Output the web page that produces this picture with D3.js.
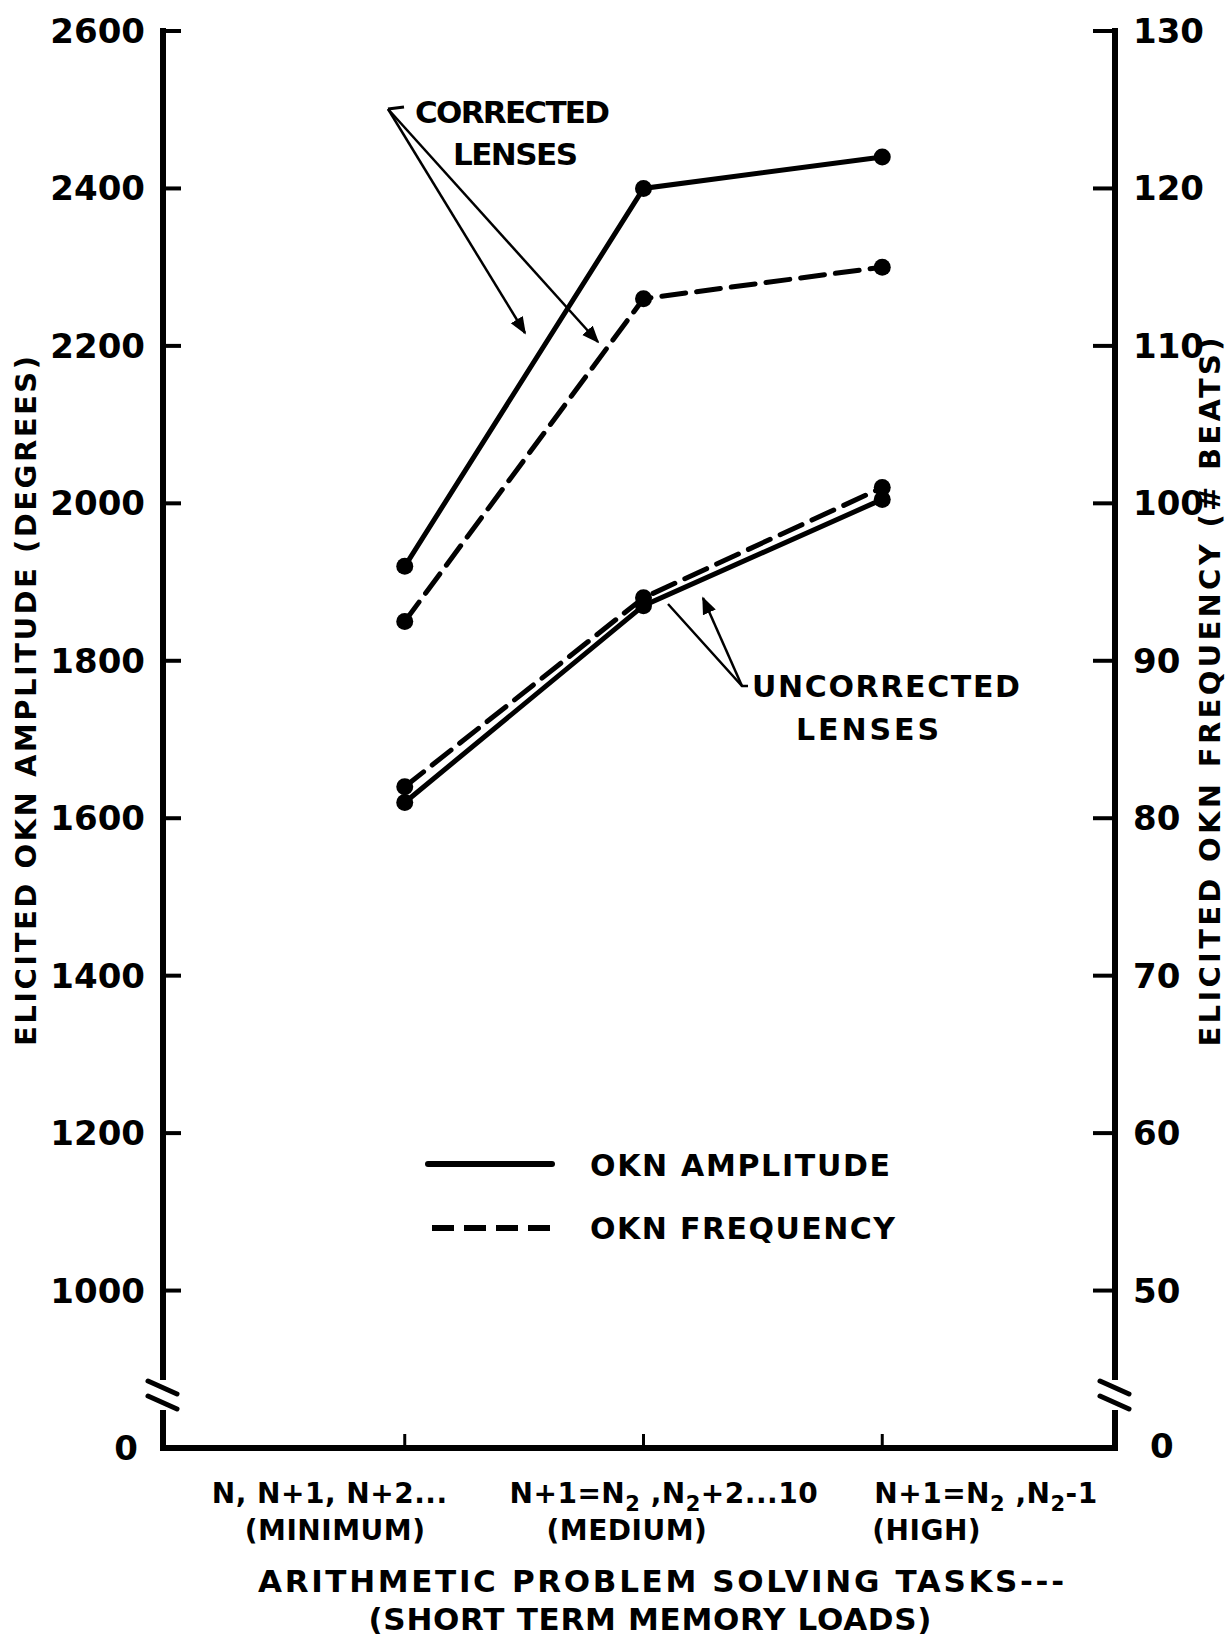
<!doctype html>
<html lang="en">
  <head>
    <meta charset="utf-8">
    <title>OKN amplitude and frequency vs memory load</title>
    <script src="https://d3js.org/d3.v7.min.js"></script>
    <style>
      body { margin: 0; background: #fff; }
      text { font-family: 'DejaVu Sans', sans-serif; font-weight: bold; fill: #000; }
    </style>
  </head>
  <body>
    <div id="root"></div>
  <script>

    // data:
    const categories = ["minimum", "medium", "high"];
    const catLine1 = ["N, N+1, N+2...", "N+1=N{2} ,N{2}+2...10", "N+1=N{2} ,N{2}-1"];
    const catLine2 = ["(MINIMUM)", "(MEDIUM)", "(HIGH)"];
    const ampCorrected = [1920, 2400, 2440];
    const freqCorrected = [92.5, 113, 115];
    const ampUncorrected = [1620, 1870, 2005];
    const freqUncorrected = [82, 94, 101];
    const leftTicks = [1000, 1200, 1400, 1600, 1800, 2000, 2200, 2400, 2600];
    const rightTicks = [50, 60, 70, 80, 90, 100, 110, 120, 130];

    // layout:
    const width = 1229, height = 1640;
    const xLeft = 163, xRight = 1115, yTop = 31, yBase = 1448;
    const catDx1 = [-193, -134, -8];   // left edge of first label line, from the tick
    const catDx2 = [-160, -97, -10];

    const svg = d3.select("#root").append("svg")
      .attr("width", width).attr("height", height);

    const x = d3.scalePoint().domain(categories).range([xLeft + 3, xRight + 6]).padding(1);
    // axis is broken: the bottom "0" sits where 800 / 40 would be
    const yL = d3.scaleLinear().domain([800, 2600]).range([yBase, yTop]);
    const yR = d3.scaleLinear().domain([40, 130]).range([yBase, yTop]);

    //axes lines with breaks:
    const axisStroke = 6;
    function vAxis(xp) {
      svg.append("path")
        .attr("d", `M${xp},${yTop - 3} L${xp},1380 M${xp},1410 L${xp},${yBase}`)
        .attr("stroke", "#000").attr("stroke-width", axisStroke).attr("fill", "none");
      [0, 15].forEach(function(o) {
        svg.append("line")
          .attr("x1", xp - 15).attr("y1", 1381 + o)
          .attr("x2", xp + 14).attr("y2", 1394 + o)
          .attr("stroke", "#000").attr("stroke-width", 5).attr("stroke-linecap", "round");
      });
    }
    vAxis(xLeft);
    vAxis(xRight);
    svg.append("line")
      .attr("x1", xLeft - 3).attr("x2", xRight + 3)
      .attr("y1", yBase).attr("y2", yBase)
      .attr("stroke", "#000").attr("stroke-width", axisStroke);

    //ticks:
    svg.selectAll(".ltick").data(leftTicks).enter().append("line")
      .attr("x1", xLeft).attr("x2", xLeft + 18)
      .attr("y1", d => yL(d)).attr("y2", d => yL(d))
      .attr("stroke", "#000").attr("stroke-width", 4);
    svg.selectAll(".rtick").data(rightTicks).enter().append("line")
      .attr("x1", xRight - 22).attr("x2", xRight)
      .attr("y1", d => yR(d)).attr("y2", d => yR(d))
      .attr("stroke", "#000").attr("stroke-width", 4);
    svg.selectAll(".xtick").data(categories).enter().append("line")
      .attr("x1", d => x(d)).attr("x2", d => x(d))
      .attr("y1", yBase).attr("y2", yBase - 14)
      .attr("stroke", "#000").attr("stroke-width", 3);

    //tick labels:
    svg.selectAll(".llab").data(leftTicks).enter().append("text")
      .attr("x", 145).attr("y", d => yL(d) + 12)
      .attr("text-anchor", "end").attr("font-size", 34)
      .text(d => d);
    svg.append("text").attr("x", 138).attr("y", yBase + 12)
      .attr("text-anchor", "end").attr("font-size", 34).text("0");
    svg.selectAll(".rlab").data(rightTicks).enter().append("text")
      .attr("x", 1133).attr("y", d => yR(d) + 12)
      .attr("font-size", 34)
      .text(d => d);
    svg.append("text").attr("x", 1150).attr("y", yBase + 10)
      .attr("font-size", 34).text("0");

    //category labels with subscripts:
    function subText(sel, str) {
      let shift = 0;
      str.split(/(\{\d\})/).forEach(function(part) {
        if (!part) return;
        const m = part.match(/^\{(\d)\}$/);
        if (m) {
          sel.append("tspan").attr("font-size", 21).attr("dy", 8 - shift).text(m[1]);
          shift = 8;
        } else {
          sel.append("tspan").attr("dy", -shift).text(part);
          shift = 0;
        }
      });
    }
    categories.forEach(function(c, i) {
      const t = svg.append("text")
        .attr("x", x(c) + catDx1[i]).attr("y", 1503)
        .attr("font-size", 28).attr("letter-spacing", 0.5);
      subText(t, catLine1[i]);
      svg.append("text")
        .attr("x", x(c) + catDx2[i]).attr("y", 1540)
        .attr("font-size", 28).attr("letter-spacing", 0.5)
        .text(catLine2[i]);
    });

    //axis titles:
    svg.append("text")
      .attr("x", 661).attr("y", 1592).attr("text-anchor", "middle")
      .attr("font-size", 31).attr("textLength", 806)
      .text("ARITHMETIC PROBLEM SOLVING TASKS---");
    svg.append("text")
      .attr("x", 650).attr("y", 1630).attr("text-anchor", "middle")
      .attr("font-size", 31).attr("textLength", 563)
      .text("(SHORT TERM MEMORY LOADS)");
    svg.append("text")
      .attr("transform", "translate(36,701) rotate(-90)")
      .attr("text-anchor", "middle").attr("font-size", 29).attr("textLength", 690)
      .text("ELICITED OKN AMPLITUDE (DEGREES)");
    svg.append("text")
      .attr("transform", "translate(1220,692) rotate(-90)")
      .attr("text-anchor", "middle").attr("font-size", 29).attr("textLength", 709)
      .text("ELICITED OKN FREQUENCY (# BEATS)");

    //series:
    const series = [
      { values: ampCorrected, y: yL, dash: null },
      { values: freqCorrected, y: yR, dash: "24,11" },
      { values: ampUncorrected, y: yL, dash: null },
      { values: freqUncorrected, y: yR, dash: "24,11" }
    ];
    series.forEach(function(s) {
      const line = d3.line()
        .x((d, i) => x(categories[i]))
        .y(d => s.y(d));
      svg.append("path")
        .attr("d", line(s.values))
        .attr("fill", "none").attr("stroke", "#000").attr("stroke-width", 5)
        .attr("stroke-linecap", "round")
        .attr("stroke-dasharray", s.dash);
      svg.selectAll(null).data(s.values).enter().append("circle")
        .attr("cx", (d, i) => x(categories[i]))
        .attr("cy", d => s.y(d))
        .attr("r", 8.5).attr("fill", "#000");
    });

    //legend:
    svg.append("line").attr("x1", 428).attr("x2", 552).attr("y1", 1164).attr("y2", 1164)
      .attr("stroke", "#000").attr("stroke-width", 6).attr("stroke-linecap", "round");
    svg.append("line").attr("x1", 432).attr("x2", 550).attr("y1", 1228).attr("y2", 1228)
      .attr("stroke", "#000").attr("stroke-width", 6).attr("stroke-dasharray", "22,10");
    svg.append("text").attr("x", 590).attr("y", 1176).attr("font-size", 30)
      .attr("textLength", 300).text("OKN AMPLITUDE");
    svg.append("text").attr("x", 590).attr("y", 1239).attr("font-size", 30)
      .attr("textLength", 305).text("OKN FREQUENCY");

    //annotations:
    const defs = svg.append("defs");
    defs.append("marker").attr("id", "head")
      .attr("viewBox", "0 0 10 10").attr("refX", 9).attr("refY", 5)
      .attr("markerWidth", 7).attr("markerHeight", 7).attr("orient", "auto")
      .attr("markerUnits", "strokeWidth")
      .append("path").attr("d", "M0,1 L10,5 L0,9 Z").attr("fill", "#000");

    svg.append("text").attr("x", 415).attr("y", 123).attr("font-size", 31)
      .attr("textLength", 195).text("CORRECTED");
    svg.append("text").attr("x", 453).attr("y", 165).attr("font-size", 31)
      .attr("textLength", 125).text("LENSES");
    svg.append("line").attr("x1", 388).attr("y1", 109).attr("x2", 404).attr("y2", 107)
      .attr("stroke", "#000").attr("stroke-width", 3);
    [[525, 333], [598, 342]].forEach(function(p) {
      svg.append("line").attr("x1", 388).attr("y1", 109).attr("x2", p[0]).attr("y2", p[1])
        .attr("stroke", "#000").attr("stroke-width", 2.5).attr("marker-end", "url(#head)");
    });

    svg.append("text").attr("x", 752).attr("y", 697).attr("font-size", 30)
      .attr("textLength", 268).text("UNCORRECTED");
    svg.append("text").attr("x", 796).attr("y", 740).attr("font-size", 30)
      .attr("textLength", 143).text("LENSES");
    svg.append("path")
      .attr("d", "M748,686 L742,686 L668,604")
      .attr("stroke", "#000").attr("stroke-width", 2.5).attr("fill", "none");
    svg.append("line").attr("x1", 742).attr("y1", 686).attr("x2", 703).attr("y2", 598)
      .attr("stroke", "#000").attr("stroke-width", 2.5).attr("marker-end", "url(#head)");

  </script>
  </body>
</html>
